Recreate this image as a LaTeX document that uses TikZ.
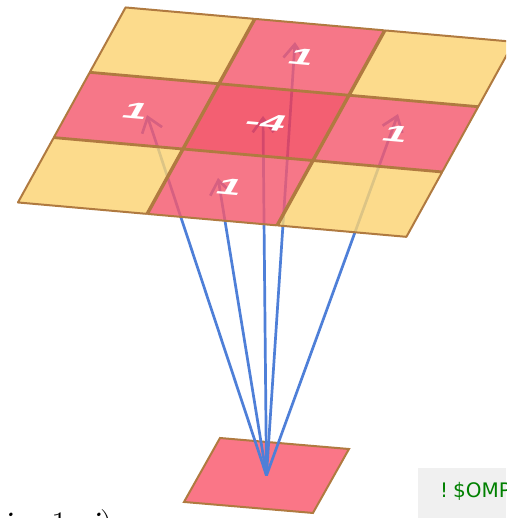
\documentclass[tikz,border=0pt]{standalone}
\usepackage{fontspec}
\newfontfamily\numfont{Liberation Sans}
\newfontfamily\codefont{DejaVu Sans}
\usetikzlibrary{arrows.meta}
\definecolor{cellY}{RGB}{252,212,115}
\definecolor{cellP}{RGB}{245,90,110}
\definecolor{cellC}{RGB}{241,60,84}
\definecolor{edgebrown}{RGB}{176,122,64}
\definecolor{arrowblue}{RGB}{78,127,216}
\definecolor{codebg}{RGB}{240,240,240}
\definecolor{codegreen}{RGB}{0,128,0}
\tikzset{
  cell/.style={draw=edgebrown, line width=2pt, fill opacity=0.82, line join=round},
  ycell/.style={cell, fill=cellY},
  pcell/.style={cell, fill=cellP},
  ccell/.style={cell, fill=cellC},
  srccell/.style={draw=edgebrown, line width=2pt, fill={rgb,255:red,250;green,118;blue,135}},
  weight/.style={transform shape, text=white, font=\numfont\bfseries\fontsize{44}{44}\selectfont, inner sep=0pt},
  link/.style={draw=arrowblue, line width=2.7pt, -{Straight Barb[length=14pt,width=21pt,line width=2.7pt]}},
}
\begin{document}
\begin{tikzpicture}[x=1pt,y=-1pt]
\clip (0,0) rectangle (506,518);
\fill[white] (0,0) rectangle (506,518);
% bottom source cell
\begin{scope}[x=130pt,y=130pt,cm={0.992,-0.0846,0.277,0.492,(220pt,-438pt)}]
  \filldraw[srccell] (0,0) rectangle (1,-1);
  \coordinate (src) at (0.5,-0.5);
\end{scope}
% arrow targets
\coordinate (tL) at (147,115);
\coordinate (tT) at (295,42);
\coordinate (tC) at (263,116);
\coordinate (tR) at (398,114);
\coordinate (tB) at (218,178);
\draw[link] (src) -- (tL);
\draw[link] (src) -- (tT);
\draw[link] (src) -- (tC);
\draw[link] (src) -- (tR);
\draw[link] (src) -- (tB);
% stencil grid
\begin{scope}[x=130pt,y=130pt,cm={1,-0.0885,0.277,0.502,(125pt,-7pt)}]
  \def\d{0.006}
  \filldraw[ycell] (0+\d,0-\d) rectangle (1-\d,-1+\d);
  \filldraw[pcell] (1+\d,0-\d) rectangle (2-\d,-1+\d);
  \filldraw[ycell] (2+\d,0-\d) rectangle (3-\d,-1+\d);
  \filldraw[pcell] (0+\d,-1-\d) rectangle (1-\d,-2+\d);
  \filldraw[ccell] (1+\d,-1-\d) rectangle (2-\d,-2+\d);
  \filldraw[pcell] (2+\d,-1-\d) rectangle (3-\d,-2+\d);
  \filldraw[ycell] (0+\d,-2-\d) rectangle (1-\d,-3+\d);
  \filldraw[pcell] (1+\d,-2-\d) rectangle (2-\d,-3+\d);
  \filldraw[ycell] (2+\d,-2-\d) rectangle (3-\d,-3+\d);
  \node[weight] (wT) at (1.5,-0.5) {1};
  \node[weight] (wL) at (0.5,-1.5) {1};
  \node[weight] (wC) at (1.5,-1.5) {-4};
  \node[weight] (wR) at (2.5,-1.5) {1};
  \node[weight] (wB) at (1.5,-2.5) {1};
\end{scope}
% code box
\fill[codebg] (418,468) rectangle (506,518);
\node[anchor=base west, inner sep=0pt, text=codegreen, font=\codefont\fontsize{20}{20}\selectfont] (code) at (440,497) {!\kern5pt\$OMP};
% cut-off formula at bottom left
\node[anchor=base west, inner sep=0pt, font=\fontsize{36}{36}\selectfont] (formula) at (-12,536) {(\textit{i} – 1, \textit{j})};
\end{tikzpicture}
\end{document}
